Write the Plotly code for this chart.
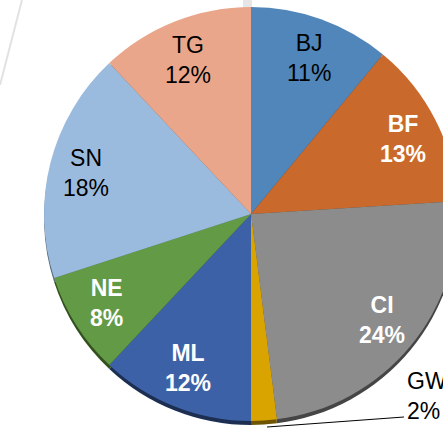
import math
import plotly.graph_objects as go

labels = ["BJ", "BF", "CI", "GW", "ML", "NE", "SN", "TG"]
values = [11, 13, 24, 2, 12, 8, 18, 12]
colors = ["#5086BA", "#C96A2C", "#8C8C8C", "#D9A300", "#3D61A6", "#639A45", "#9BBBDE", "#EAA68A"]
shadow_colors = ["#2A4868", "#6E3A18", "#454545", "#6E5300", "#1C2E52", "#33501F", "#56687B", "#7F5A4B"]
text_colors = ["black", "white", "white", "black", "white", "white", "black", "black"]
bold = [False, True, True, False, True, True, False, False]
outside = ["GW"]

W, H = 530, 430
cx, cy, r = 251, 214, 207
shadow_dy = 4
FONT = "Liberation Sans, Arial, sans-serif"
FS = 23


def dom(dy=0):
    return dict(x=[(cx - r) / W, (cx + r) / W],
                y=[1 - (cy + dy + r) / H, 1 - (cy + dy - r) / H])


fig = go.Figure()
# shadow rim (3D look at the bottom)
fig.add_trace(go.Pie(
    labels=labels, values=values, sort=False, direction="clockwise", rotation=0,
    marker=dict(colors=shadow_colors, line=dict(width=0)),
    textinfo="none", hoverinfo="skip", showlegend=False, domain=dom(shadow_dy),
))
fig.add_trace(go.Pie(
    labels=labels, values=values, sort=False, direction="clockwise", rotation=0,
    marker=dict(colors=colors, line=dict(width=0)),
    textinfo="none", showlegend=False, domain=dom(0),
))

# labels on the slice bisectors (Excel-style, ~80% radius)
total = sum(values)
cum = 0
for lab, v, tc, b in zip(labels, values, text_colors, bold):
    mid = (cum + v / 2) / total * 2 * math.pi
    cum += v
    if lab in outside:
        continue
    rr = 0.80 * r
    px = cx + rr * math.sin(mid) * 1.03
    py = cy - rr * math.cos(mid)
    txt = f"{lab}<br>{v}%"
    if b:
        txt = f"<b>{lab}</b><br><b>{v}%</b>"
    fig.add_annotation(x=px / W, y=1 - py / H, xref="paper", yref="paper",
                       text=txt, showarrow=False, align="center",
                       xanchor="center", yanchor="middle",
                       font=dict(family=FONT, size=FS, color=tc))

gw_i = labels.index("GW")
fig.add_annotation(
    x=405 / W, y=1 - 396 / H, xref="paper", yref="paper",
    text=f"{labels[gw_i]}<br>{values[gw_i]}%", showarrow=False,
    xanchor="left", yanchor="middle", align="left",
    font=dict(family=FONT, size=FS, color="black"),
)
fig.add_shape(type="line", xref="paper", yref="paper",
              x0=267 / W, y0=1 - 427 / H, x1=404 / W, y1=1 - 417 / H,
              line=dict(color="black", width=1))

# faint background artifacts
fig.add_shape(type="line", xref="paper", yref="paper",
              x0=22 / W, y0=1.0, x1=0, y1=1 - 85 / H,
              line=dict(color="#E2E2E2", width=2), layer="below")
fig.add_shape(type="rect", xref="paper", yref="paper",
              x0=243 / W, y0=1 - 9 / H, x1=252 / W, y1=1.0,
              line=dict(width=0), fillcolor="#E6E6E6", layer="below")

fig.update_layout(
    width=W, height=H,
    margin=dict(l=0, r=0, t=0, b=0),
    paper_bgcolor="white", plot_bgcolor="white",
)

fig.write_html("out.html", post_script="document.body.style.overflow='hidden';document.body.style.margin='0';")
